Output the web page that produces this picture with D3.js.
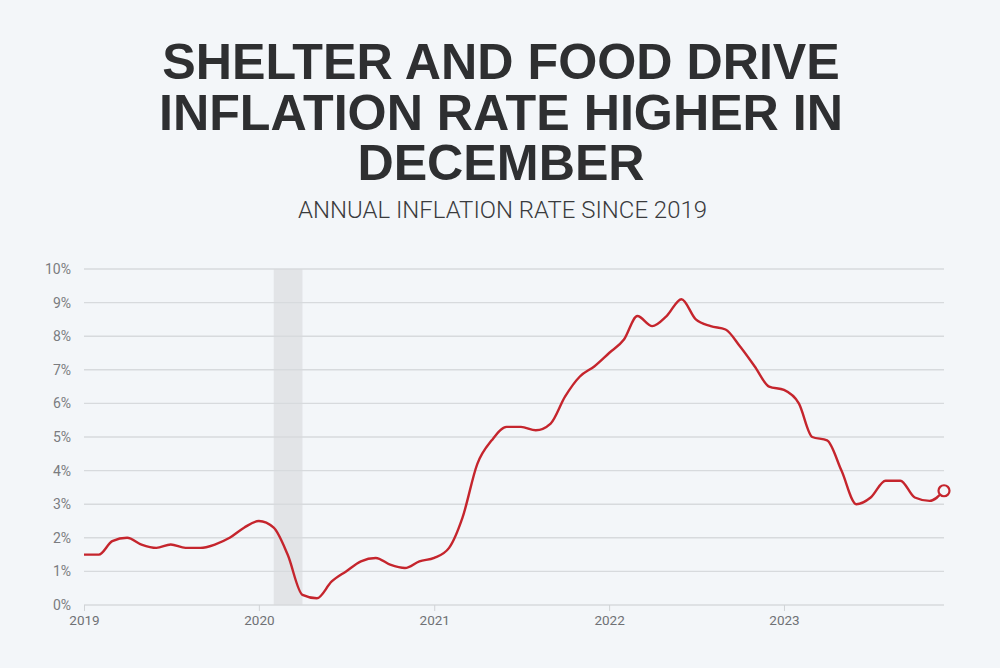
<!DOCTYPE html>
<html>
<head>
<meta charset="utf-8">
<script src="https://cdn.jsdelivr.net/npm/d3@7"></script>
<style>
  html, body { margin: 0; padding: 0; background: #f3f6f9; }
  svg { display: block; }
</style>
</head>
<body>
<svg id="chart" width="1000" height="668"></svg>
<script>
const titleLines = ["SHELTER AND FOOD DRIVE", "INFLATION RATE HIGHER IN", "DECEMBER"];
const subtitle = "ANNUAL INFLATION RATE SINCE 2019";

const months = d3.timeMonths(new Date(2019, 0, 1), new Date(2024, 0, 1));
const rates = [
  1.5, 1.5, 1.9, 2.0, 1.8, 1.7, 1.8, 1.7, 1.7, 1.8, 2.0, 2.3,
  2.5, 2.3, 1.5, 0.3, 0.2, 0.7, 1.0, 1.3, 1.4, 1.2, 1.1, 1.3,
  1.4, 1.7, 2.6, 4.2, 4.9, 5.3, 5.3, 5.2, 5.4, 6.2, 6.8, 7.1,
  7.5, 7.9, 8.6, 8.3, 8.6, 9.1, 8.5, 8.3, 8.2, 7.7, 7.1, 6.5,
  6.4, 6.0, 5.0, 4.9, 4.0, 3.0, 3.2, 3.7, 3.7, 3.2, 3.1, 3.4
];
const yTicks = [0, 1, 2, 3, 4, 5, 6, 7, 8, 9, 10];
const xTickYears = [2019, 2020, 2021, 2022, 2023];
const recession = [new Date(2020, 1, 1), new Date(2020, 3, 1)];

const data = months.map((d, i) => ({ date: d, value: rates[i] }));

const svg = d3.select("#chart");

const plotLeft = 84, plotRight = 944, plotTop = 269, plotBottom = 605;
const x = d3.scaleTime().domain([months[0], months[months.length - 1]]).range([plotLeft, plotRight]);
const y = d3.scaleLinear().domain([0, 10]).range([plotBottom, plotTop]);

// Title
const title = svg.append("g")
  .attr("font-family", "'Liberation Sans', Arial, sans-serif")
  .attr("font-weight", 700)
  .attr("font-size", 50.2)
  .attr("fill", "#2e2f31")
  .attr("text-anchor", "middle");
title.selectAll("text").data(titleLines).join("text")
  .attr("x", 501)
  .attr("y", (d, i) => 78.8 + i * 50.8)
  .text(d => d);

svg.append("text")
  .attr("x", 502.5)
  .attr("y", 217.5)
  .attr("text-anchor", "middle")
  .attr("font-family", "Roboto, 'Liberation Sans', sans-serif")
  .attr("font-weight", 300)
  .attr("font-size", 23.5)
  .attr("fill", "#3a3b3d")
  .attr("textLength", 409)
  .attr("lengthAdjust", "spacingAndGlyphs")
  .text(subtitle);

// Recession band
svg.append("rect")
  .attr("x", x(recession[0]))
  .attr("width", x(recession[1]) - x(recession[0]))
  .attr("y", plotTop)
  .attr("height", plotBottom - plotTop)
  .attr("fill", "#e2e4e7");

// Gridlines
svg.append("g").selectAll("line").data(yTicks).join("line")
  .attr("x1", plotLeft).attr("x2", plotRight)
  .attr("y1", d => y(d)).attr("y2", d => y(d))
  .attr("stroke", "#d7dadd")
  .attr("stroke-width", 1.4);

// Y labels
svg.append("g").selectAll("text").data(yTicks).join("text")
  .attr("x", 71)
  .attr("y", d => y(d))
  .attr("dy", "0.35em")
  .attr("text-anchor", "end")
  .attr("font-family", "Roboto, 'Liberation Sans', sans-serif")
  .attr("font-size", 14)
  .attr("fill", "#7a7c80")
  .text(d => d + "%");

// X axis ticks and labels
const xAxis = svg.append("g").attr("transform", `translate(0,${plotBottom})`)
  .call(d3.axisBottom(x)
    .tickValues(xTickYears.map(yr => new Date(yr, 0, 1)))
    .tickFormat(d3.timeFormat("%Y"))
    .tickSize(6)
    .tickPadding(4));
xAxis.select(".domain").remove();
xAxis.selectAll(".tick line").attr("stroke", "#d0d3d6");
xAxis.selectAll(".tick text")
  .attr("font-family", "Roboto, 'Liberation Sans', sans-serif")
  .attr("font-size", 13.5)
  .attr("fill", "#6f7175");

// Line
const line = d3.line()
  .x(d => x(d.date))
  .y(d => y(d.value))
  .curve(d3.curveMonotoneX);

svg.append("path")
  .datum(data)
  .attr("d", line)
  .attr("fill", "none")
  .attr("stroke", "#c5252d")
  .attr("stroke-width", 2.4)
  .attr("stroke-linejoin", "round");

const last = data[data.length - 1];
svg.append("circle")
  .attr("cx", x(last.date))
  .attr("cy", y(last.value))
  .attr("r", 5.5)
  .attr("fill", "#f3f6f9")
  .attr("stroke", "#c5252d")
  .attr("stroke-width", 2.2);
</script>
</body>
</html>
